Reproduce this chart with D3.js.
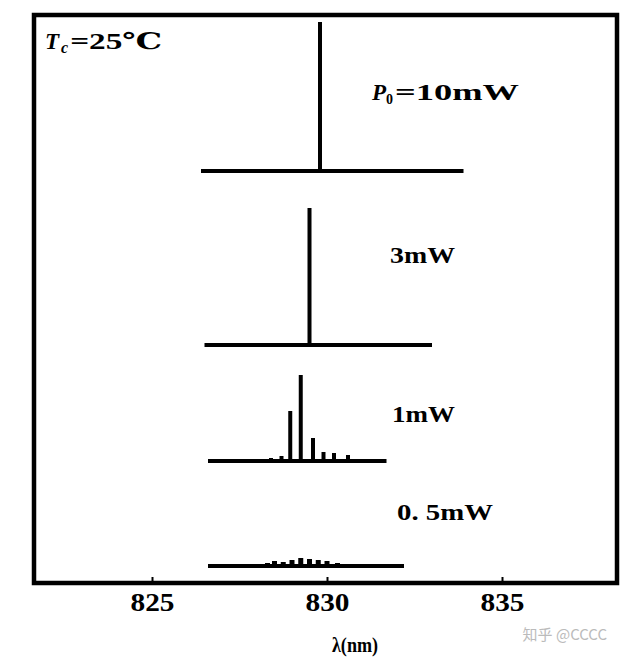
<!DOCTYPE html>
<html><head><meta charset="utf-8">
<script src="https://cdn.jsdelivr.net/npm/d3@7/dist/d3.min.js"></script>
<style>body{margin:0;background:#fff}svg{display:block}</style>
</head><body>
<script>
// ---- data ----
const powers = ["10mW", "3mW", "1mW", "0.5mW"];
// baseline spans (nm)
const spanStart = [826.4, 826.5, 826.6, 826.6];
const spanEnd   = [833.9, 833.0, 831.7, 832.2];
// longitudinal mode lines: wavelength (nm) and relative intensity (a.u.)
const modes10  = [[829.8, 149]];
const modes3   = [[829.5, 137]];
const modes1   = [[828.4, 3], [828.7, 5], [828.95, 50], [829.25, 86], [829.6, 23], [829.9, 9], [830.2, 8], [830.6, 6]];
const modes05  = [[828.3, 3], [828.5, 5], [828.75, 4], [829.0, 6], [829.25, 8], [829.5, 7], [829.75, 6], [830.0, 5], [830.3, 3]];
const modeSets = [modes10, modes3, modes1, modes05];
const xTicks = [825, 830, 835];
const xLabel = "λ(nm)";

// ---- layout ----
const W = 633, H = 660;
const frame = {l: 34, t: 15, r: 617, b: 583};
const svg = d3.select("body").append("svg").attr("width", W).attr("height", H);

const x = d3.scaleLinear().domain([825, 835]).range([152, 502]);
const base = d3.scaleOrdinal().domain(powers).range([171, 345, 461, 566]);
const amp = d3.scaleLinear().domain([0, 150]).range([0, 150]);

svg.append("rect").attr("x", frame.l).attr("y", frame.t)
  .attr("width", frame.r - frame.l).attr("height", frame.b - frame.t)
  .attr("fill", "none").attr("stroke", "#000").attr("stroke-width", 4.5);

const font = "'Liberation Serif','DejaVu Serif',serif";

powers.forEach((p, i) => {
  const g = svg.append("g");
  const y0 = base(p);
  g.append("line").attr("x1", x(spanStart[i])).attr("x2", x(spanEnd[i]))
    .attr("y1", y0).attr("y2", y0).attr("stroke", "#000").attr("stroke-width", 4);
  g.selectAll("line.m").data(modeSets[i]).join("line").attr("class", "m")
    .attr("x1", d => x(d[0])).attr("x2", d => x(d[0]))
    .attr("y1", y0).attr("y2", d => y0 - amp(d[1]))
    .attr("stroke", "#000").attr("stroke-width", i === 3 ? 5 : 4);
});

// x axis ticks on frame bottom
const xa = d3.axisBottom(x).tickValues(xTicks).tickSize(-6).tickPadding(10).tickFormat(d3.format("d"));
const ag = svg.append("g").attr("transform", `translate(0,${frame.b})`).call(xa);
ag.select(".domain").remove();
ag.selectAll("line").attr("stroke", "#000").attr("stroke-width", 2);
ag.selectAll("text").attr("font-family", font).attr("font-weight", "bold")
  .attr("font-size", 25).attr("fill", "#000")
  .attr("textLength", 44).attr("lengthAdjust", "spacingAndGlyphs");

svg.append("text").attr("x", 355).attr("y", 652).attr("text-anchor", "middle")
  .attr("font-family", font).attr("font-weight", "bold").attr("font-size", 20)
  .attr("textLength", 46).attr("lengthAdjust", "spacingAndGlyphs")
  .text(xLabel);

// Tc label
const tc = svg.append("text").attr("x", 45).attr("y", 49)
  .attr("font-family", font).attr("font-weight", "bold").attr("font-size", 23);
tc.append("tspan").attr("font-style", "italic").text("T");
tc.append("tspan").attr("font-style", "italic").attr("font-size", 16).attr("dy", 4).attr("dx", 2).text("c");
tc.append("tspan").attr("dy", -4).attr("dx", 2)
  .attr("textLength", 92).attr("lengthAdjust", "spacingAndGlyphs").text("=25℃");

// power labels
const lp = [[372, 100, 148], [390, 263, 65], [392, 422, 63], [397, 520, 96]];
powers.forEach((p, i) => {
  const t = svg.append("text").attr("x", lp[i][0]).attr("y", lp[i][1])
    .attr("font-family", font).attr("font-weight", "bold").attr("font-size", 23);
  if (i === 0) {
    t.append("tspan").attr("font-style", "italic").text("P");
    t.append("tspan").attr("font-size", 14).attr("dy", 4).text("0");
    t.append("tspan").attr("dy", -4).attr("dx", 2)
      .attr("textLength", 124).attr("lengthAdjust", "spacingAndGlyphs").text("=10mW");
  } else {
    t.attr("textLength", lp[i][2]).attr("lengthAdjust", "spacingAndGlyphs")
      .text(p === "0.5mW" ? "0. 5mW" : p);
  }
});

svg.append("text").attr("x", 607).attr("y", 640).attr("text-anchor", "end")
  .attr("font-family", "'Noto Sans CJK SC',sans-serif").attr("font-size", 15)
  .attr("fill", "#bbb").text("知乎 @CCCC");
</script>
</body></html>
